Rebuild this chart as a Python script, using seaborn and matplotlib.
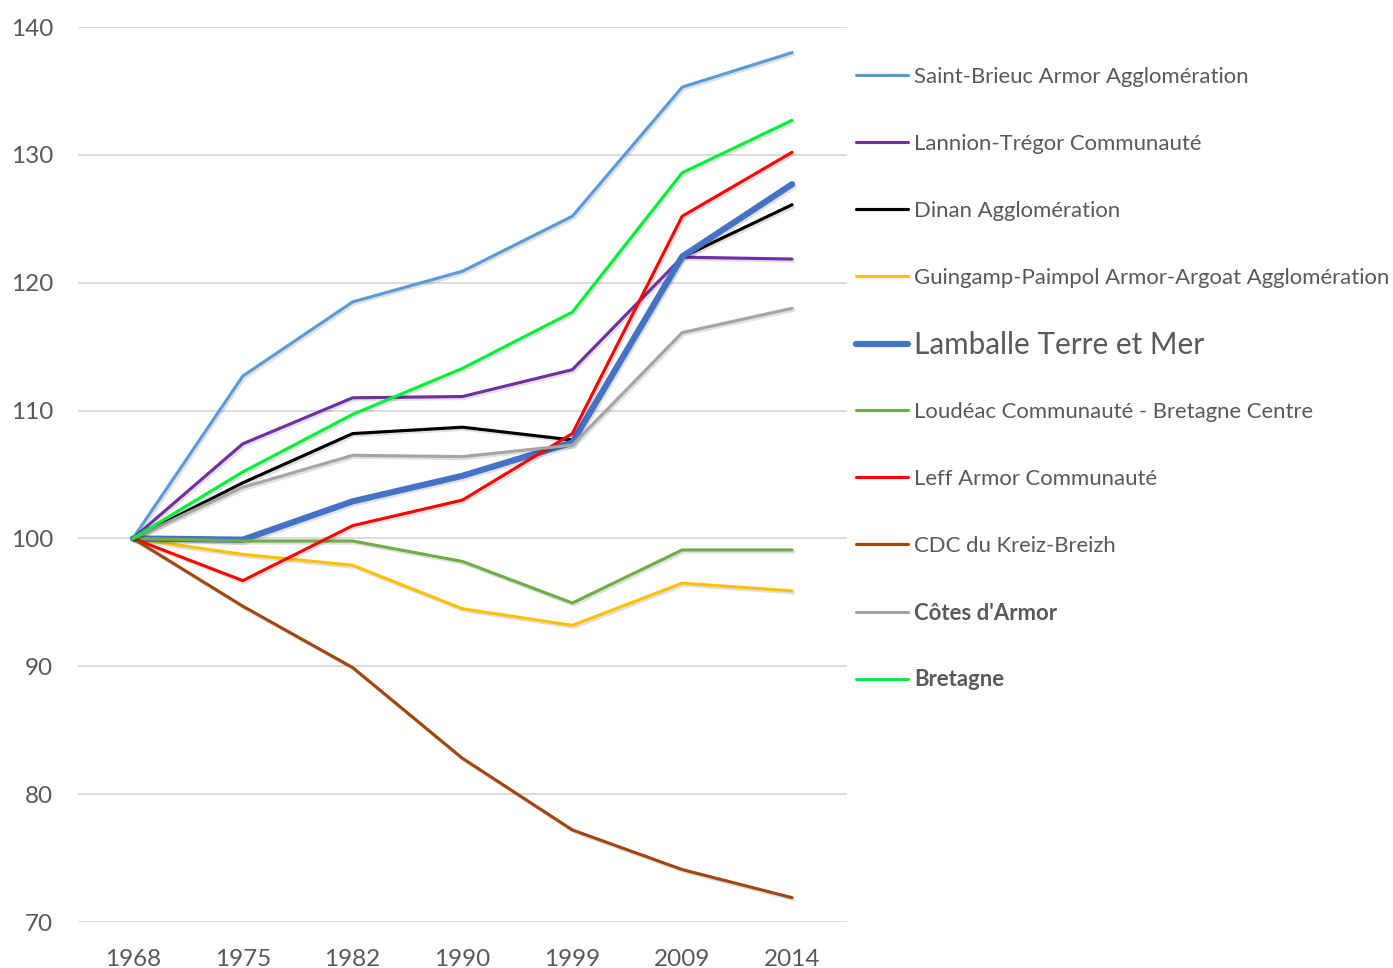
import matplotlib
matplotlib.use("Agg")
import matplotlib.pyplot as plt
import matplotlib.patheffects as pe
import seaborn as sns
import pandas as pd

years = ["1968", "1975", "1982", "1990", "1999", "2009", "2014"]

saint_brieuc = [100, 112.7, 118.5, 120.9, 125.2, 135.3, 138.0]
lannion = [100, 107.4, 111.0, 111.1, 113.2, 122.0, 121.85]
dinan = [100, 104.35, 108.2, 108.7, 107.7, 122.0, 126.1]
guingamp = [100, 98.75, 97.9, 94.5, 93.2, 96.5, 95.9]
lamballe = [100, 99.9, 102.9, 104.9, 107.5, 122.05, 127.7]
loudeac = [100, 99.8, 99.8, 98.2, 94.95, 99.1, 99.1]
leff = [100, 96.7, 101.0, 103.0, 108.2, 125.2, 130.2]
kreiz_breizh = [100, 94.7, 89.9, 82.8, 77.2, 74.1, 71.9]
cotes_armor = [100, 104.0, 106.5, 106.4, 107.3, 116.1, 118.0]
bretagne = [100, 105.2, 109.7, 113.3, 117.7, 128.6, 132.7]

series_names = [
    "Saint-Brieuc Armor Agglomération",
    "Lannion-Trégor Communauté",
    "Dinan Agglomération",
    "Guingamp-Paimpol Armor-Argoat Agglomération",
    "Lamballe Terre et Mer",
    "Loudéac Communauté - Bretagne Centre",
    "Leff Armor Communauté",
    "CDC du Kreiz-Breizh",
    "Côtes d'Armor",
    "Bretagne",
]
series_values = [saint_brieuc, lannion, dinan, guingamp, lamballe,
                 loudeac, leff, kreiz_breizh, cotes_armor, bretagne]
colors = ["#5B9BD5", "#7030A0", "#000000", "#FFC000", "#4472C4",
          "#70AD47", "#FF0000", "#9E480E", "#A5A5A5", "#00EE3A"]

rows = []
for name, vals in zip(series_names, series_values):
    for y, v in zip(years, vals):
        rows.append({"series": name, "year": y, "value": v})
df = pd.DataFrame(rows)

sns.set_theme(style="white")
plt.rcParams["font.family"] = ["Lato", "DejaVu Sans"]
TXT = "#595959"

W, H = 1393, 968
fig = plt.figure(figsize=(W / 100, H / 100), dpi=100)
ax = fig.add_axes([78 / W, 1 - 922 / H, (847 - 78) / W, (922 - 27) / H])

shadow = [pe.SimpleLineShadow(offset=(1.2, -1.5), shadow_color="black", alpha=0.12),
          pe.Normal()]

lines = []
for i, (name, col) in enumerate(zip(series_names, colors)):
    lw = 4.5 if name == "Lamballe Terre et Mer" else 2.25
    sub = df[df["series"] == name]
    sns.lineplot(data=sub, x="year", y="value", color=col, linewidth=lw,
                 ax=ax, sort=False, legend=False, zorder=3 + i)
    ln = ax.get_lines()[-1]
    ln.set_solid_capstyle("round")
    ln.set_solid_joinstyle("round")
    ln.set_path_effects(shadow)
    lines.append(ln)

ax.set_xlim(-0.5, len(years) - 0.5)
ax.set_ylim(70, 140)
ax.set_yticks(range(70, 141, 10))
ax.set_xlabel("")
ax.set_ylabel("")
for s in ax.spines.values():
    s.set_visible(False)
ax.yaxis.grid(True, color="#D9D9D9", linewidth=1.3, zorder=0)
ax.xaxis.grid(False)
ax.set_axisbelow(True)
ax.tick_params(axis="y", length=0, pad=18, labelsize=17.5, labelcolor=TXT)
ax.tick_params(axis="x", length=0, pad=19.5, labelsize=17.5, labelcolor=TXT)

# legend: one entry per row, placed at Excel-like positions
for i, (ln, name) in enumerate(zip(lines, series_names)):
    if name == "Lamballe Terre et Mer":
        fs, weight = 21.4, "normal"
    elif name in ("Côtes d'Armor", "Bretagne"):
        fs, weight = 15.9, "bold"
    else:
        fs, weight = 15.9, "normal"
    fs_px = fs * 100 / 72
    yc = 77 + 67 * i
    leg = fig.legend([ln], [name], loc="center left",
                     bbox_to_anchor=(856 / W, 1 - yc / H),
                     frameon=False, borderpad=0, borderaxespad=0,
                     handlelength=52 / fs_px, handletextpad=6 / fs_px,
                     prop={"size": fs, "weight": weight, "family": ["Lato", "DejaVu Sans"]})
    for t in leg.get_texts():
        t.set_color(TXT)
    for h in leg.legend_handles:
        h.set_path_effects([])

fig.savefig("out.png", dpi=100)
